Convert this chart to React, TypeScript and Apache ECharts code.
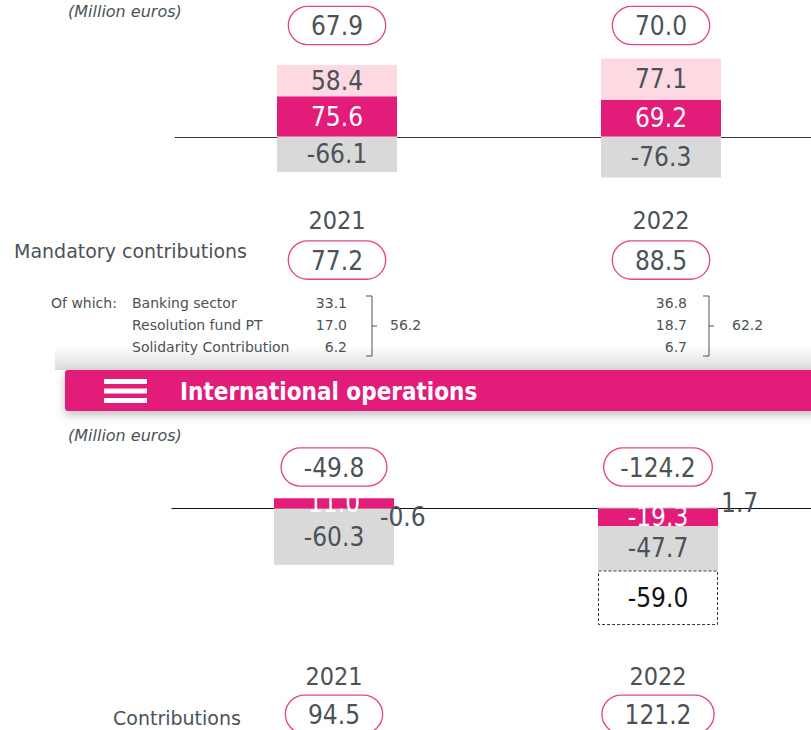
import React, { useEffect, useRef } from "react";
import * as echarts from "echarts";

// ---------- data ----------
const years = ["2021", "2022"];

// Domestic section
const domTotals = [67.9, 70.0];
const domDark = [75.6, 69.2];
const domLight = [58.4, 77.1];
const domGrey = [-66.1, -76.3];
const mandatoryTotals = [77.2, 88.5];
const breakdownLabels = ["Banking sector", "Resolution fund PT", "Solidarity Contribution"];
const breakdown2021 = [33.1, 17.0, 6.2];
const breakdown2022 = [36.8, 18.7, 6.7];
const breakdownSubtotals = [56.2, 62.2];

// International operations section
const intTotals = [-49.8, -124.2];
const intDark = [11.0, -19.3];
const intLight = [-0.6, 1.7];
const intGrey = [-60.3, -47.7];
const intDashed: (number | null)[] = [null, -59.0];
const contributionTotals = [94.5, 121.2];

// ---------- styles ----------
const PINK = "#E31B79";
const LIGHT = "#FDD9E2";
const GREY = "#D9D9D9";
const TXT = "#4B5258";
const OVAL = "#E4458A";
const NUM = '"DejaVu Sans Condensed", "DejaVu Sans", sans-serif';
const SANS = '"DejaVu Sans", sans-serif';

const fmt = (v: number) => v.toFixed(1);

const ovalBase = {
  fontSize: 26, fontFamily: NUM, color: TXT, lineHeight: 30,
  borderColor: OVAL, borderWidth: 1.3, borderRadius: 19, backgroundColor: "#fff",
};
const ovalRich = {
  o: { ...ovalBase, padding: [6, 22, 5, 22] },
  w: { ...ovalBase, padding: [6, 16, 5, 16] },
};
const ovalFormatter = (v: string) => `{${v.length > 5 ? "w" : "o"}|${v}}`;

const hidden = { show: false, onZero: false };

function ovalAxis(gridIndex: number, position: string, data: number[], margin: number, offset = 0) {
  return {
    type: "category", gridIndex, position, offset, data: data.map(fmt),
    axisLine: hidden, axisTick: { show: false }, splitLine: { show: false },
    axisLabel: { interval: 0, margin, formatter: ovalFormatter, rich: ovalRich },
  };
}
function yearAxis(gridIndex: number, margin: number) {
  return {
    type: "category", gridIndex, position: "bottom", data: years,
    axisLine: hidden, axisTick: { show: false },
    axisLabel: { interval: 0, margin, fontSize: 25, fontFamily: NUM, color: TXT, lineHeight: 30 },
  };
}
function mainAxis(gridIndex: number, color: string) {
  return {
    type: "category", gridIndex, data: years,
    axisLine: { show: true, onZero: true, lineStyle: { color, width: 1.2 } },
    axisTick: { show: false }, axisLabel: { show: false },
  };
}

const barLabel = (color: string) => ({
  show: true, position: "inside", color, fontSize: 26, fontFamily: NUM,
  formatter: (p: any) => fmt(p.value),
});

function bar(xi: number, data: any[], color: string, labelColor: string, extra: any = {}) {
  return {
    type: "bar", xAxisIndex: xi, yAxisIndex: xi === 0 ? 0 : 1, stack: "s" + xi,
    barWidth: 120, data, itemStyle: { color }, label: barLabel(labelColor), ...extra,
  };
}

export default function App() {
  const ref = useRef<HTMLDivElement>(null);
  useEffect(() => {
    const chart = echarts.init(ref.current!, null, { renderer: "svg" });

    const textStyle = (text: string, x: number, y: number, o: any = {}) => ({
      type: "text",
      style: {
        text, x, y, fill: TXT, fontSize: 14, fontFamily: SANS,
        verticalAlign: "middle", align: "left", ...o,
      },
    });

    const rows = [303, 325, 347];
    const graphics: any[] = [
      textStyle("(Million euros)", 68, 11, { fontSize: 16, fontStyle: "italic" }),
      textStyle("Mandatory contributions", 14, 251, { fontSize: 19 }),
      textStyle("Of which:", 51, rows[0]),
      ...breakdownLabels.map((l, i) => textStyle(l, 132, rows[i])),
      ...breakdown2021.map((v, i) => textStyle(fmt(v), 347, rows[i], { align: "right" })),
      ...breakdown2022.map((v, i) => textStyle(fmt(v), 687, rows[i], { align: "right" })),
      textStyle(fmt(breakdownSubtotals[0]), 390, rows[1]),
      textStyle(fmt(breakdownSubtotals[1]), 732, rows[1]),
      ...[372, 709].flatMap((bx) => [
        { type: "polyline", shape: { points: [[bx - 6, 296], [bx, 296], [bx, 356], [bx - 6, 356]] }, style: { stroke: "#555", lineWidth: 1, fill: "none" } },
        { type: "line", shape: { x1: bx, y1: 326, x2: bx + 5, y2: 326 }, style: { stroke: "#555", lineWidth: 1 } },
      ]),
      {
        type: "rect", shape: { x: 55, y: 346, width: 800, height: 24 },
        style: {
          fill: new echarts.graphic.LinearGradient(0, 0, 0, 1, [
            { offset: 0, color: "rgba(0,0,0,0)" },
            { offset: 1, color: "rgba(0,0,0,0.14)" },
          ]),
        },
      },
      {
        type: "rect", shape: { x: 65, y: 370, width: 760, height: 41, r: 3 },
        style: { fill: PINK, shadowBlur: 10, shadowOffsetY: 4, shadowColor: "rgba(0,0,0,0.25)" },
      },
      ...[379, 388.5, 398].map((y) => ({ type: "rect", shape: { x: 104, y, width: 43, height: 5 }, style: { fill: "#fff" } })),
      textStyle("International operations", 180, 392, { fill: "#fff", fontSize: 24, fontWeight: "bold", fontFamily: NUM }),
      textStyle("(Million euros)", 68, 435, { fontSize: 16, fontStyle: "italic" }),
      textStyle("Contributions", 113, 718, { fontSize: 19 }),
    ];

    const option: any = {
      animation: false,
      backgroundColor: "#fff",
      grid: [
        { left: 175, width: 648, top: 56.5, height: 139.1, outerBoundsMode: "none", containLabel: false },
        { left: 172, width: 648, top: 490, height: 157.25, outerBoundsMode: "none", containLabel: false },
      ],
      xAxis: [
        mainAxis(0, "#3a3a3a"),
        ovalAxis(0, "top", domTotals, 16),
        yearAxis(0, 9.5),
        ovalAxis(0, "bottom", mandatoryTotals, 0, 49.5),
        mainAxis(1, "#111"),
        ovalAxis(1, "top", intTotals, 8),
        yearAxis(1, 14.5),
        ovalAxis(1, "bottom", contributionTotals, 0, 52),
      ],
      yAxis: [
        { type: "value", gridIndex: 0, min: -110, max: 150, show: false, splitLine: { show: false } },
        { type: "value", gridIndex: 1, min: -150, max: 20, show: false, splitLine: { show: false } },
      ],
      series: [
        bar(0, domDark, PINK, "#fff"),
        bar(0, domLight, LIGHT, TXT),
        bar(0, domGrey, GREY, TXT),
        bar(4, intDark, PINK, "#fff"),
        bar(4, [
          { value: intLight[0], label: { position: "right", offset: [-19, 8] } },
          { value: intLight[1], label: { position: "right", offset: [-2, -5] } },
        ], LIGHT, TXT),
        bar(4, intGrey, GREY, TXT),
        bar(4, intDashed, "#fff", "#111", {
          itemStyle: { color: "#fff", borderColor: "#333", borderWidth: 1, borderType: [3, 2] },
        }),
      ],
      graphic: graphics,
    };
    chart.setOption(option);
    return () => chart.dispose();
  }, []);
  return (
    <div
      ref={ref}
      style={{ position: "fixed", left: 0, top: 0, width: 811, height: 730, background: "#fff" }}
    />
  );
}
